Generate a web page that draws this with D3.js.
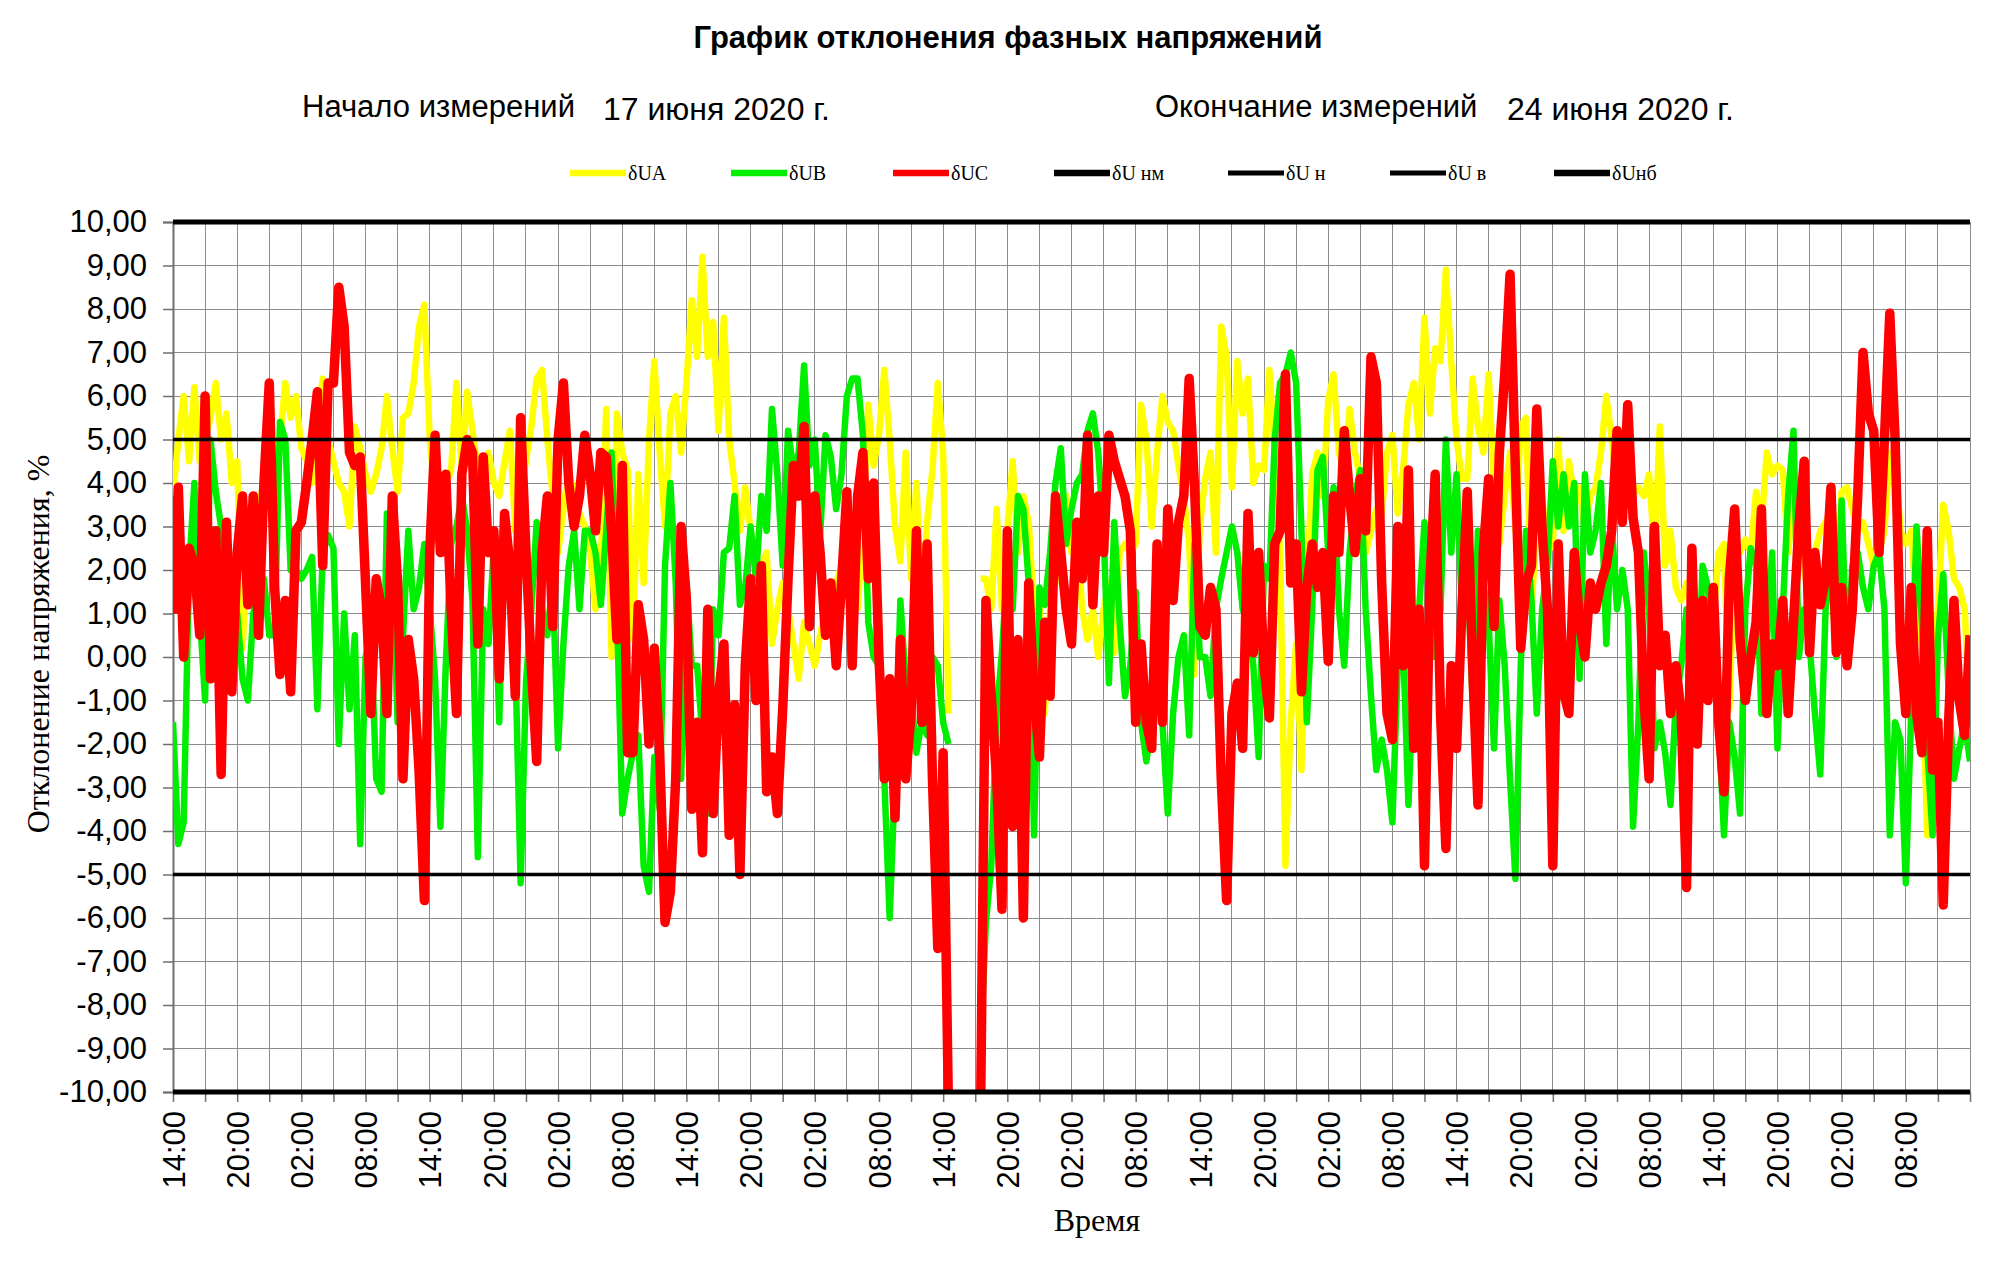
<!DOCTYPE html>
<html>
<head>
<meta charset="utf-8">
<script src="https://cdn.jsdelivr.net/npm/d3@7"></script>
<style>
  html, body { margin: 0; padding: 0; background: #fff; }
  svg { display: block; }
</style>
</head>
<body>
<svg id="chart" width="2000" height="1261"></svg>
<script>
/* График отклонения фазных напряжений — 17…24 июня 2020, шаг 30 мин */

// --- данные -----------------------------------------------------------------
const START = new Date(2020, 5, 17, 14, 0);
const END = new Date(2020, 5, 24, 14, 0);
const STEP_MIN = 30;

const seriesNames = ["δUA", "δUB", "δUC"];
const seriesColors = ["#ffff00", "#00ee00", "#ff0000"];

// δUA (жёлтая)
const uA = [
  3.7, 5.0, 6.0, 4.5, 6.2, 4.5, 5.0, 5.5, 6.3, 5.0, 5.6, 4.0, 4.5, 0.2, 2.5, 3.0, 3.5, 4.0, 4.5, 3.5, 5.0, 6.3,
  5.5, 6.0, 4.8, 4.5, 4.0, 5.5, 6.4, 5.0, 4.5, 4.0, 3.8, 3.0, 5.3, 4.8, 4.2, 3.8, 4.2, 4.8, 6.0, 4.8, 3.8, 5.5,
  5.6, 6.3, 7.6, 8.1, 5.0, 3.7, 3.0, 3.9, 4.3, 6.3, 4.3, 6.1, 5.2, 4.3, 4.5, 4.7, 4.0, 3.7, 4.5, 5.2, 2.9,
  3.9, 4.5, 5.3, 6.4, 6.6, 5.0, 3.7, 2.4, 3.4, 4.3, 3.7, 3.3, 3.0, 2.4, 1.1, 2.2, 5.7, 0.0, 5.6, 4.7, 4.3,
  0.4, 4.2, 1.7, 5.0, 6.8, 4.7, 3.0, 5.6, 6.0, 4.7, 6.3, 8.2, 6.9, 9.2, 6.9, 7.7, 5.2, 7.8, 5.0, 4.0, 2.9,
  3.9, 2.9, 1.8, 2.1, 2.4, 0.3, 1.1, 1.7, 1.1, 0.3, -0.5, 0.8, 0.3, -0.2, 0.5, 1.1, 1.3, 1.7, 2.1, 2.4, 1.7,
  1.1, 2.9, 5.8, 4.4, 5.1, 6.6, 5.0, 3.0, 2.2, 4.7, 1.8, 4.0, 1.1, 3.1, 4.3, 6.3, 4.7, -1.3,
  null, null, null, null, null,
  1.8, 1.8, 1.1, 3.4, 1.1, 2.9, 4.5, 2.4, 3.7, 3.1, 1.1, 1.3, -1.3, 1.1, 1.7, 2.9, 3.7, 2.4, 2.9,
  1.1, 0.4, 1.1, 0.0, 1.1, 1.7, 0.1, 2.4, 2.6, 2.4, 2.6, 5.8, 5.0, 3.0, 4.7, 6.0, 5.4, 5.2, 4.4, 3.7, 2.6,
  -0.4, 3.0, 4.1, 4.7, 2.4, 7.6, 6.9, 3.9, 6.8, 5.6, 6.4, 4.0, 4.4, 4.3, 6.6, 4.7, 2.4, -4.8, -1.5, 0.3, -2.6,
  1.7, 4.2, 4.7, 3.7, 5.9, 6.5, 4.7, 4.2, 5.7, 4.7, 4.1, 2.4, 2.9, 3.4, 3.3, 4.7, 5.1, 3.3, 4.3, 5.8, 6.3,
  5.0, 7.8, 5.6, 7.1, 6.8, 8.9, 6.8, 5.0, 4.1, 4.1, 6.4, 5.3, 4.7, 6.5, 3.9, 2.6, 3.7, 4.7, 2.9, 5.3, 5.5,
  1.1, 3.0, 3.7, 2.4, 2.6, 5.0, 2.9, 4.5, 3.7, 3.9, 2.9, 3.7, 3.9, 4.7, 6.0, 5.0, 3.9, 3.7, 4.3, 3.7, 3.9,
  3.7, 4.2, 2.4, 5.3, 2.1, 2.9, 1.6, 1.3, 1.7, 1.1, -0.2, 1.1, 0.5, 0.8, 2.4, 2.6, -1.2, 2.4, 2.4, 2.7, 2.4,
  3.8, 3.0, 4.7, 4.2, 4.4, 4.3, 2.4, 3.7, 2.9, 2.1, 1.1, 2.4, 2.9, 3.1, 3.4, 2.4, 3.8, 3.9, 3.4, 2.9, 3.1,
  2.6, 2.1, 2.4, 2.9, 4.7, 4.7, 2.9, 2.6, 2.9, 1.1, 0.3, -4.1, -0.2, 1.1, 3.5, 2.9, 1.8, 1.6, 1.1, -1.3
];

// δUB (зелёная)
const uB = [
  -1.5, -4.3, -3.8, 2.0, 4.0, 1.0, -1.0, 5.0, 3.8, 3.0, 1.0, 1.5, 1.0, -0.5, -1.0, 1.0, 1.5, 1.8, 0.5, 0.5, 5.4, 5.0,
  2.0, 2.0, 1.8, 2.0, 2.3, -1.2, 2.4, 2.8, 2.5, -2.0, 1.0, -1.2, 0.5, -4.3, 0.0, 0.5, -2.8, -3.1, 3.3, 2.3, -1.5, 0.5,
  2.9, 1.1, 1.6, 2.6, 1.1, -0.5, -3.9, -0.2, 2.6, 3.0, 3.7, 2.9, 1.3, -4.6, 1.1, 0.3, 2.6, -1.5, 3.3, 2.4, 0.0,
  -5.2, -0.6, 1.1, 3.1, 1.1, 0.5, 1.8, -2.1, 0.3, 2.1, 2.9, 1.1, 2.9, 2.9, 2.4, 1.2, 2.9, 4.7, 1.1, -3.6, -2.8,
  -2.2, -1.8, -4.8, -5.4, -2.3, -3.5, 2.1, 4.0, 1.7, -2.8, 1.7, -0.2, -0.2, -1.8, -3.6, 1.1, 0.5, 2.4, 2.5, 3.7, 1.2,
  1.6, 3.0, 1.8, 3.7, 2.9, 5.7, 4.2, 2.1, 5.2, 4.3, 4.7, 6.7, 4.4, 5.0, 2.8, 5.1, 4.6, 3.4, 4.2, 6.0, 6.4,
  6.4, 5.1, 0.8, 0.0, -0.2, -2.8, -6.0, -2.8, 1.3, -0.6, -0.9, -2.2, -1.5, -1.8, 0.0, -0.2, -1.5, -2.0,
  null, null, null, null, null,
  -9.0, -6.1, -4.8, -1.3, 0.1, 2.1, 1.1, 3.7, 3.4, 1.7, -4.1, 1.6, 1.2, 2.4, 4.0, 4.8, 2.6, 3.4, 4.0,
  4.2, 5.2, 5.6, 4.7, 2.9, -0.6, 3.1, 0.8, -0.9, -0.2, 1.5, -1.5, -2.4, -1.5, -0.9, -1.5, -3.6, -1.3, 0.0, 0.5, -1.8,
  2.6, 0.0, 0.0, -0.9, 1.1, 1.8, 2.4, 3.0, 2.4, 1.1, 0.8, -0.2, -2.3, 2.1, 1.8, 5.0, 6.3, 6.5, 7.0, 6.3, 2.9,
  -1.5, 1.1, 4.3, 4.6, 2.4, 3.9, 1.1, -0.2, 2.4, 3.7, 4.3, 1.1, -0.9, -2.6, -1.9, -2.6, -3.8, -0.2, 0.3, -3.4, -0.2,
  1.1, 3.1, 1.1, 0.0, 1.1, 5.0, 2.4, 4.2, 1.1, 2.1, -1.0, 2.9, 1.7, 0.8, -2.1, 1.3, -0.2, -2.8, -5.1, -0.2, 2.9,
  1.3, -1.3, 1.1, 2.1, 4.5, 3.0, 4.2, 3.0, 4.0, -0.5, 4.2, 2.4, 2.9, 4.0, 0.3, 3.1, 1.1, 2.0, 1.1, -3.9, -1.5,
  2.4, 1.1, -2.1, -1.5, -2.2, -3.4, -1.0, -0.2, 1.1, 0.5, -1.3, 2.1, 1.6, -0.2, -1.5, -4.1, -1.5, -2.3, -3.6, 1.1, 2.5,
  2.1, -1.3, 0.3, 2.4, -2.1, 1.1, 3.7, 5.2, 0.0, 1.1, 0.3, -1.3, -2.7, 1.1, 2.1, 0.0, 3.6, -0.2, 2.1, 2.4, 1.6,
  1.1, 2.1, 2.4, 1.1, -4.1, -1.5, -1.9, -5.2, -1.3, 3.0, 0.8, -2.1, -4.1, 0.4, 1.9, -0.8, -2.8, -2.1, -1.5, -2.4
];

// δUC (красная)
const uC = [
  1.0, 3.9, 0.0, 2.5, 2.1, 0.5, 6.0, -0.5, 2.9, -2.7, 3.1, -0.8, 2.4, 3.7, 1.2, 3.7, 0.5, 4.0, 6.3, 1.6, -0.4, 1.3,
  -0.8, 2.9, 3.1, 4.0, 5.0, 6.1, 2.1, 6.3, 6.3, 8.5, 7.6, 4.7, 4.4, 4.6, 1.7, -1.3, 1.8, 1.1, -1.3, 3.7, 1.7, -2.8,
  0.4, -0.5, -2.6, -5.6, 2.4, 5.1, 2.4, 4.2, 1.1, -1.3, 4.2, 5.0, 4.7, 0.3, 4.6, 2.4, 2.9, -0.5, 3.3, 2.1, -0.9,
  5.5, 2.4, -0.2, -2.4, 2.4, 3.7, 0.7, 5.0, 6.3, 4.0, 3.0, 3.7, 5.1, 4.2, 2.9, 4.7, 4.6, 2.9, 0.4, 4.4, -2.2,
  -2.2, 1.2, 0.4, -2.0, 0.2, -2.2, -6.1, -5.4, -2.8, 3.0, 1.3, -3.5, -1.5, -4.5, 1.1, -3.6, -0.9, 0.3, -4.1, -1.1, -5.0,
  -0.2, 1.8, -1.0, 2.1, -3.1, -2.3, -3.6, -1.2, 1.8, 4.4, 3.7, 5.3, 0.7, 3.7, 2.4, 0.5, 1.7, -0.2, 1.7, 3.8, -0.2,
  3.7, 4.7, 1.8, 4.0, 0.0, -2.8, -0.5, -3.7, 0.4, -2.8, -1.3, 2.9, -1.5, 2.6, -2.8, -6.7, -2.2, -10.5,
  null, null, null, null, null,
  -10.5, 1.3, -0.9, -2.8, -5.8, 2.9, -3.9, 0.4, -6.0, 1.7, -0.9, -2.3, 0.8, -0.9, 3.7, 2.4, 1.1, 0.3, 3.1,
  1.8, 5.1, 1.2, 3.7, 2.4, 5.1, 4.5, 4.1, 3.7, 2.9, -1.5, 0.3, -1.5, -2.1, 2.6, -1.5, 3.4, 1.3, 3.1, 3.7, 6.4,
  3.9, 0.7, 0.5, 1.6, 1.1, -2.8, -5.6, -1.3, -0.6, -2.1, 3.3, 0.1, 2.4, -0.2, -1.4, 2.6, 2.9, 6.5, 1.7, 2.6, -0.8,
  1.6, 2.6, 1.6, 2.4, -0.1, 3.7, 2.4, 5.2, 3.7, 2.4, 4.1, 2.9, 6.9, 6.3, 1.7, -1.3, -1.9, 3.0, -0.2, 4.3, -2.1,
  1.1, -4.8, 1.7, 4.2, -1.3, -4.4, -0.2, -2.1, 1.1, 3.8, -0.2, -3.4, 2.4, 4.1, 0.7, 4.7, 6.5, 8.8, 4.3, 0.2, 1.7,
  2.1, 5.7, 2.9, 1.1, -4.8, 2.6, -0.8, -1.3, 2.4, 0.8, 0.0, 1.7, 1.1, 1.7, 2.1, 2.9, 5.2, 3.1, 5.8, 3.2, 2.4,
  -0.9, -2.8, 3.0, -0.2, 0.5, -1.3, -0.2, -1.3, -5.3, 2.5, -2.0, 1.3, -1.0, 1.6, -1.5, -3.1, 1.8, 3.4, 0.4, -1.0, 0.0,
  0.8, 3.4, -1.3, 0.3, -0.2, 1.3, -1.3, 0.8, 3.0, 4.5, 0.1, 2.4, 1.2, 1.8, 3.9, 0.1, 1.6, -0.2, 1.1, 3.7, 7.0,
  5.6, 5.2, 2.4, 5.0, 7.9, 5.0, 0.3, -1.3, 1.6, -1.3, -2.2, 2.9, -2.6, -1.5, -5.7, -1.5, 1.3, -1.0, -1.8, 0.5
];

// нормируемые границы
const limitNames = ["δU нм", "δU н", "δU в", "δUнб"];
const limitValues = [-10, -5, 5, 10];
const limitWidths = [5, 3.5, 3.5, 5];

const yTickValues = d3.range(-10, 11, 1);

// --- геометрия ---------------------------------------------------------------
const W = 2000, H = 1261;
const PL = 173, PR = 1970, PT = 222, PB = 1092;
const FONT_SANS = "'Liberation Sans', Arial, sans-serif";
const FONT_SERIF = "'Liberation Serif', 'Times New Roman', serif";

const svg = d3.select("#chart");
svg.append("rect").attr("width", W).attr("height", H).attr("fill", "#fff");

const x = d3.scaleTime().domain([START, END]).range([PL, PR]);
const y = d3.scaleLinear().domain([-10, 10]).range([PB, PT]);

const xTickValues = d3.range(0, 57).map(i => d3.timeHour.offset(START, i * 3));
const fmtTime = d3.timeFormat("%H:%M");
const ru = d3.formatLocale({ decimal: ",", thousands: " ", grouping: [3], currency: ["", ""], minus: "-" });
const fmtY = ru.format(".2f");

// --- сетка -------------------------------------------------------------------
const grid = svg.append("g").attr("stroke", "#8c8c8c").attr("stroke-width", 1).attr("shape-rendering", "crispEdges");
grid.selectAll("line.h").data(yTickValues).join("line")
  .attr("x1", PL).attr("x2", PR).attr("y1", d => y(d)).attr("y2", d => y(d));
grid.selectAll("line.v").data(xTickValues).join("line")
  .attr("x1", d => x(d)).attr("x2", d => x(d)).attr("y1", PT).attr("y2", PB);

// --- оси ---------------------------------------------------------------------
const yAxis = svg.append("g").attr("transform", `translate(${PL},0)`)
  .call(d3.axisLeft(y).tickValues(yTickValues).tickSize(10).tickPadding(16).tickFormat(fmtY));
yAxis.select(".domain").attr("stroke", "#6e6e6e").attr("stroke-width", 2);
yAxis.selectAll(".tick line").attr("stroke", "#6e6e6e").attr("stroke-width", 1.5);
yAxis.selectAll("text").attr("font-family", FONT_SANS).attr("font-size", 31).attr("fill", "#000");

const xAxis = svg.append("g").attr("transform", `translate(0,${PB})`)
  .call(d3.axisBottom(x).tickValues(xTickValues).tickSize(10)
    .tickFormat((d, i) => (i % 2 === 0 && i < 56) ? fmtTime(d) : ""));
xAxis.select(".domain").attr("stroke", "#6e6e6e");
xAxis.selectAll(".tick line").attr("stroke", "#6e6e6e").attr("stroke-width", 1.5);
xAxis.selectAll("text")
  .attr("font-family", FONT_SANS).attr("font-size", 31).attr("fill", "#000")
  .attr("transform", "rotate(-90)")
  .attr("text-anchor", "end")
  .attr("x", -19).attr("y", 0).attr("dy", "0.36em");

// --- серии -------------------------------------------------------------------
svg.append("clipPath").attr("id", "plotClip")
  .append("rect").attr("x", PL).attr("y", PT - 10).attr("width", PR - PL).attr("height", PB - PT + 10);

const toRows = arr => arr.map((v, i) => ({ t: d3.timeMinute.offset(START, i * STEP_MIN), v }));
const line = d3.line()
  .defined(d => d.v !== null)
  .x(d => x(d.t))
  .y(d => y(d.v));

const seriesData = [uA, uB, uC];
const seriesWidths = [6.5, 6.5, 9.5];
const plot = svg.append("g").attr("clip-path", "url(#plotClip)");
seriesData.forEach((arr, s) => {
  plot.append("path")
    .datum(toRows(arr))
    .attr("d", line)
    .attr("fill", "none")
    .attr("stroke", seriesColors[s])
    .attr("stroke-width", seriesWidths[s])
    .attr("stroke-linejoin", "round")
    .attr("stroke-linecap", "butt");
});

// границы допустимого отклонения
svg.append("g").selectAll("line").data(limitValues).join("line")
  .attr("x1", PL).attr("x2", PR)
  .attr("y1", d => y(d)).attr("y2", d => y(d))
  .attr("stroke", "#000")
  .attr("stroke-width", (d, i) => limitWidths[i]);

// --- заголовки ---------------------------------------------------------------
svg.append("text").attr("x", 1008).attr("y", 48).attr("text-anchor", "middle")
  .attr("font-family", FONT_SANS).attr("font-size", 31).attr("font-weight", "bold")
  .text("График отклонения фазных напряжений");

const sub = [
  { t: "Начало измерений", x: 302, y: 117, fs: 31 },
  { t: "17 июня 2020 г.", x: 603, y: 120, fs: 32 },
  { t: "Окончание измерений", x: 1155, y: 117, fs: 31 },
  { t: "24 июня 2020 г.", x: 1507, y: 120, fs: 32 }
];
svg.append("g").selectAll("text").data(sub).join("text")
  .attr("x", d => d.x).attr("y", d => d.y)
  .attr("font-family", FONT_SANS).attr("font-size", d => d.fs)
  .text(d => d.t);

// --- легенда -----------------------------------------------------------------
const legendItems = [
  ...seriesNames.map((n, i) => ({ name: n, color: seriesColors[i], w: 6.5 })),
  ...limitNames.map((n, i) => ({ name: n, color: "#000", w: limitWidths[i] + 1.5 }))
];
const legendX = [570, 731, 893, 1054, 1228, 1390, 1554];
const legend = svg.append("g").attr("transform", "translate(0,173)");
legendItems.forEach((it, i) => {
  const g = legend.append("g").attr("transform", `translate(${legendX[i]},0)`);
  g.append("line").attr("x1", 0).attr("x2", 56).attr("y1", 0).attr("y2", 0)
    .attr("stroke", it.color).attr("stroke-width", it.w);
  g.append("text").attr("x", 58).attr("y", 0).attr("dy", "0.35em")
    .attr("font-family", FONT_SERIF).attr("font-size", 20)
    .text(it.name);
});

// --- подписи осей ------------------------------------------------------------
svg.append("text")
  .attr("transform", "translate(38,644) rotate(-90)")
  .attr("text-anchor", "middle").attr("dy", "0.35em")
  .attr("font-family", FONT_SERIF).attr("font-size", 32)
  .text("Отклонение напряжения, %");

svg.append("text").attr("x", 1097).attr("y", 1231).attr("text-anchor", "middle")
  .attr("font-family", FONT_SERIF).attr("font-size", 32)
  .text("Время");
</script>
</body>
</html>
